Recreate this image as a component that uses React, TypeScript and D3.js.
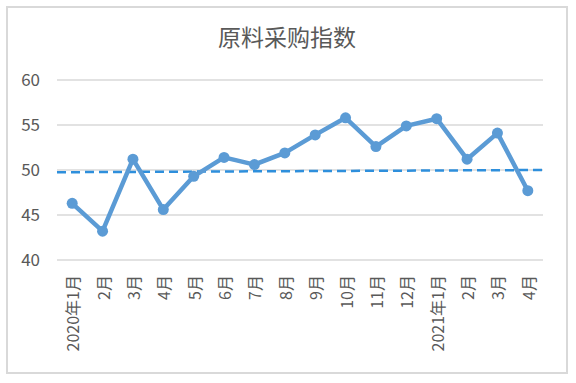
import React from "react";
import * as d3 from "d3";

const months = ["2020年1月","2月","3月","4月","5月","6月","7月","8月","9月","10月","11月","12月","2021年1月","2月","3月","4月"];
const values = [46.3, 43.2, 51.2, 45.6, 49.3, 51.4, 50.6, 51.9, 53.9, 55.8, 52.6, 54.9, 55.7, 51.2, 54.1, 47.7];
const refLine = [49.75, 50.0];
const yTicks = [40, 45, 50, 55, 60];
const title = "原料采购指数";

const W = 576, H = 383;
const left = 57, right = 543, top = 80, bottom = 260;
const font = "'Noto Sans CJK SC', 'Noto Sans', sans-serif";

export default function App() {
  const keys = months.map((_, i) => String(i));
  const x = d3.scalePoint<string>().domain(keys).range([left, right]).padding(0.5);
  const y = d3.scaleLinear().domain([40, 60]).range([bottom, top]);
  const line = d3.line<number>().x((_, i) => x(String(i))!).y(d => y(d));
  const refX = d3.scaleLinear().domain([0, 1]).range([left, right]);
  const refPath = d3.line<number>().x((_, i) => refX(i)).y(d => y(d))(refLine)!;
  return (
    <svg width={W} height={H} style={{ position: "absolute", left: 0, top: 0, background: "#fff" }}>
      <rect x={7} y={7} width={560} height={366} fill="#fff" stroke="#d9d9d9" strokeWidth={2} />
      <text x={287} y={46} textAnchor="middle" fontFamily={font} fontSize={23} fill="#595959">{title}</text>
      {yTicks.map(t => (
        <g key={t}>
          <line x1={left} x2={right} y1={y(t)} y2={y(t)} stroke="#d9d9d9" strokeWidth={1.5} />
          <text x={40} y={y(t)} dy="0.35em" textAnchor="end" fontFamily={font} fontSize={17} fill="#595959">{t}</text>
        </g>
      ))}
      {months.map((m, i) => (
        <text key={i} transform={`translate(${x(String(i))},275) rotate(-90)`} textAnchor="end" dominantBaseline="central"
          fontFamily={font} fontSize={16} fill="#595959">{m}</text>
      ))}
      <path d={refPath} fill="none" stroke="#2e8fdc" strokeWidth={2.5} strokeDasharray="9,5" />
      <path d={line(values)!} fill="none" stroke="#5b9bd5" strokeWidth={4.5} strokeLinejoin="round" />
      {values.map((v, i) => (
        <circle key={i} cx={x(String(i))} cy={y(v)} r={5.5} fill="#5b9bd5" />
      ))}
    </svg>
  );
}
